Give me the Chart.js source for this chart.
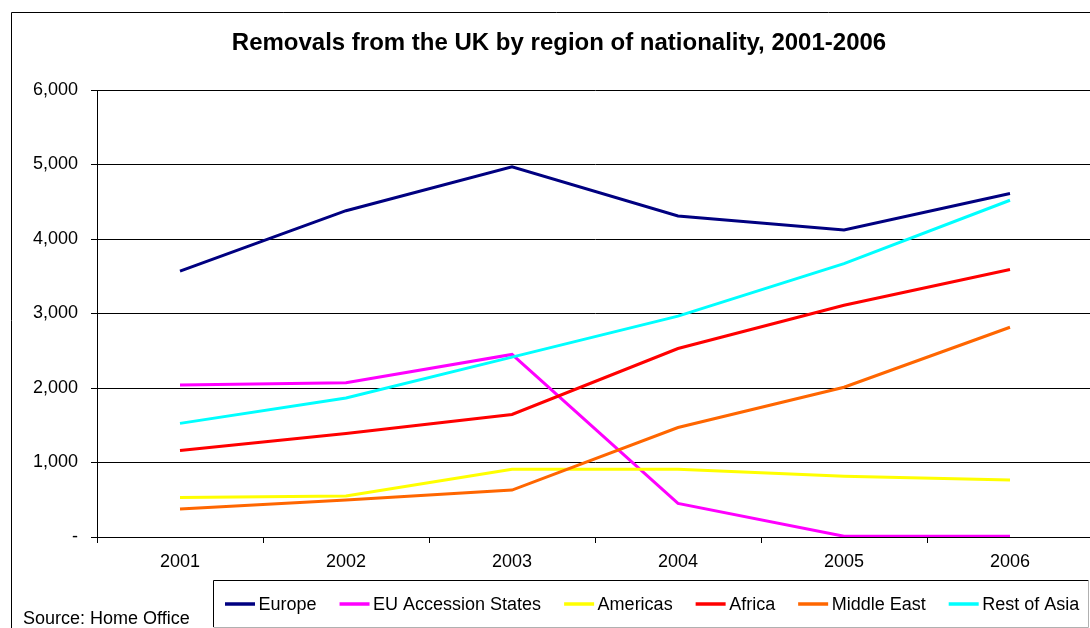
<!DOCTYPE html>
<html>
<head>
<meta charset="utf-8">
<script src="https://cdn.jsdelivr.net/npm/chart.js@4.4.1/dist/chart.umd.min.js"></script>
<style>
  html, body { margin: 0; padding: 0; background: #fff; overflow: hidden; }
  #wrap { width: 1100px; height: 628px; }
</style>
</head>
<body>
<div id="wrap"><canvas id="c" width="1100" height="628"></canvas></div>
<script>
// Removals from the UK by region of nationality, 2001-2006 (Home Office)
const years = ['2001', '2002', '2003', '2004', '2005', '2006'];
const europe = [3570, 4380, 4970, 4310, 4120, 4610];
const euAccession = [2040, 2070, 2450, 450, 10, 10];
const americas = [530, 550, 910, 910, 815, 765];
const africa = [1160, 1390, 1645, 2530, 3110, 3590];
const middleEast = [375, 495, 630, 1470, 2010, 2815];
const restOfAsia = [1525, 1865, 2415, 2965, 3670, 4520];
const yTicks = [0, 1000, 2000, 3000, 4000, 5000, 6000];

const seriesNames = ['Europe', 'EU Accession States', 'Americas', 'Africa', 'Middle East', 'Rest of Asia'];
const seriesValues = [europe, euAccession, americas, africa, middleEast, restOfAsia];
const seriesColors = ['#000080', '#FF00FF', '#FFFF00', '#FF0000', '#FF6600', '#00FFFF'];

const FONT = "'Liberation Sans', Arial, sans-serif";

const datasets = seriesNames.map((name, i) => ({
  label: name,
  data: seriesValues[i],
  borderColor: seriesColors[i],
  backgroundColor: seriesColors[i],
  borderWidth: 3,
  pointRadius: 0,
  pointHoverRadius: 0,
  tension: 0,
  fill: false,
  // later series are painted over earlier ones
  order: seriesNames.length - 1 - i
}));

// Outer frame, source note and the boxed legend along the bottom
const decorations = {
  id: 'decorations',
  afterDraw(chart) {
    const ctx = chart.ctx;
    ctx.save();
    // outer frame
    ctx.strokeStyle = '#000';
    ctx.lineWidth = 1;
    ctx.beginPath();
    ctx.moveTo(11.5, 700);
    ctx.lineTo(11.5, 12.5);
    ctx.lineTo(1200, 12.5);
    ctx.stroke();

    // source note
    ctx.fillStyle = '#000';
    ctx.font = '18px ' + FONT;
    ctx.textBaseline = 'alphabetic';
    ctx.textAlign = 'left';
    ctx.fillText('Source: Home Office', 23, 624);

    // legend box
    ctx.strokeStyle = '#000';
    ctx.beginPath();
    ctx.moveTo(213.5, 627);
    ctx.lineTo(213.5, 580.5);
    ctx.lineTo(1088.5, 580.5);
    ctx.stroke();
    ctx.strokeStyle = '#b0b0b0';
    ctx.beginPath();
    ctx.moveTo(1088.5, 580.5);
    ctx.lineTo(1088.5, 627.5);
    ctx.lineTo(213.5, 627.5);
    ctx.stroke();

    // legend entries
    let x = 225;
    const yMid = 604;
    chart.data.datasets.forEach(ds => {
      ctx.strokeStyle = ds.borderColor;
      ctx.lineWidth = 3.5;
      ctx.beginPath();
      ctx.moveTo(x, yMid);
      ctx.lineTo(x + 30, yMid);
      ctx.stroke();
      ctx.fillStyle = '#000';
      ctx.textBaseline = 'middle';
      ctx.fillText(ds.label, x + 33.5, yMid + 1);
      x += 33.5 + ctx.measureText(ds.label).width + 23;
    });
    ctx.restore();
  }
};

new Chart(document.getElementById('c'), {
  type: 'line',
  data: { labels: years, datasets },
  plugins: [decorations],
  options: {
    responsive: false,
    animation: false,
    events: [],
    layout: { padding: { left: 25, right: 7, top: 0, bottom: 51 } },
    plugins: {
      legend: { display: false },
      tooltip: { enabled: false },
      title: {
        display: true,
        text: 'Removals from the UK by region of nationality, 2001-2006',
        color: '#000',
        font: { family: FONT, size: 24, weight: 'bold', lineHeight: 1.2 },
        padding: { top: 29, bottom: 32.2 }
      }
    },
    scales: {
      x: {
        offset: true,
        grid: {
          offset: true,
          drawOnChartArea: false,
          drawTicks: true,
          tickLength: 6,
          color: '#000',
          lineWidth: 1
        },
        border: { color: '#000', width: 1 },
        ticks: { color: '#000', padding: 8, font: { family: FONT, size: 18 }, maxRotation: 0 },
        afterFit(scale) { scale.height = 40; }
      },
      y: {
        min: 0,
        max: 6000,
        afterBuildTicks(scale) { scale.ticks = yTicks.map(v => ({ value: v })); },
        grid: { color: '#000', lineWidth: 1, tickLength: 6 },
        border: { color: '#000', width: 1 },
        ticks: {
          color: '#000',
          padding: 13,
          font: { family: FONT, size: 18 },
          callback: v => (v === 0 ? '-' : v.toLocaleString('en-US'))
        },
        afterFit(scale) { scale.width = 72; }
      }
    }
  }
});
</script>
</body>
</html>
